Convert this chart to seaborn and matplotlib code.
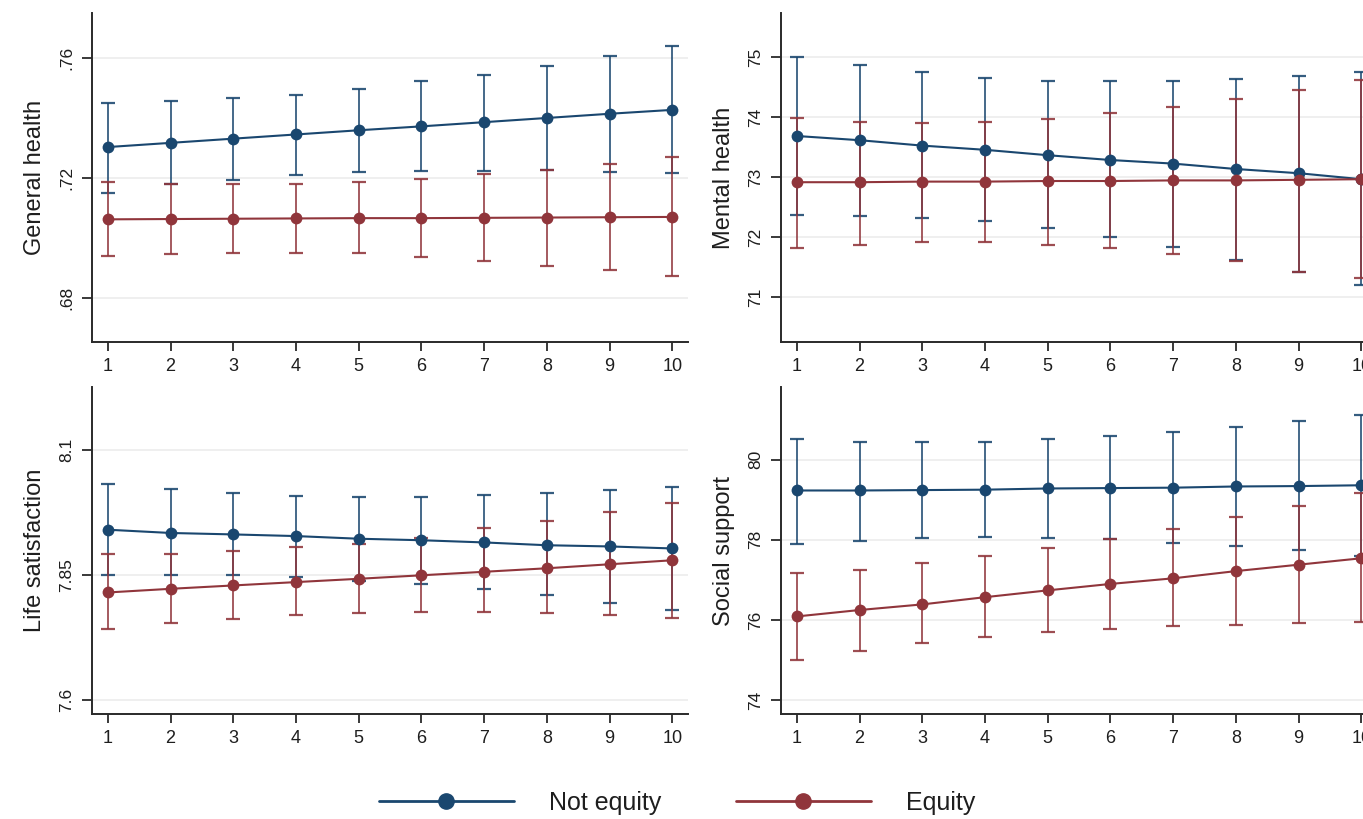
import numpy as np
import pandas as pd
import matplotlib
matplotlib.use("Agg")
import matplotlib.pyplot as plt
from matplotlib.lines import Line2D
import seaborn as sns

# ---------------- data ----------------
time = [1, 2, 3, 4, 5, 6, 7, 8, 9, 10]
groups = ["Not equity", "Equity"]

# General health
gh_ne = [0.7302, 0.7316, 0.7330, 0.7344, 0.7358, 0.7371, 0.7385, 0.7399, 0.7413, 0.7426]
gh_ne_lo = [0.7150, 0.7178, 0.7192, 0.7209, 0.7218, 0.7223, 0.7223, 0.7226, 0.7218, 0.7214]
gh_ne_hi = [0.7450, 0.7457, 0.7464, 0.7477, 0.7496, 0.7521, 0.7542, 0.7573, 0.7607, 0.7640]
gh_eq = [0.7061, 0.7062, 0.7063, 0.7064, 0.7065, 0.7065, 0.7066, 0.7067, 0.7068, 0.7069]
gh_eq_lo = [0.6938, 0.6946, 0.6950, 0.6950, 0.6948, 0.6934, 0.6922, 0.6907, 0.6892, 0.6871]
gh_eq_hi = [0.7184, 0.7178, 0.7178, 0.7178, 0.7184, 0.7194, 0.7212, 0.7227, 0.7246, 0.7268]

# Mental health
mh_ne = [73.69, 73.62, 73.53, 73.46, 73.37, 73.29, 73.23, 73.14, 73.07, 72.97]
mh_ne_lo = [72.37, 72.36, 72.33, 72.27, 72.16, 72.01, 71.84, 71.62, 71.43, 71.20]
mh_ne_hi = [75.01, 74.87, 74.75, 74.65, 74.61, 74.60, 74.60, 74.64, 74.69, 74.76]
mh_eq = [72.92, 72.92, 72.93, 72.93, 72.94, 72.94, 72.95, 72.95, 72.96, 72.97]
mh_eq_lo = [71.82, 71.88, 71.93, 71.93, 71.88, 71.82, 71.72, 71.61, 71.42, 71.33]
mh_eq_hi = [73.99, 73.92, 73.91, 73.93, 73.98, 74.07, 74.18, 74.31, 74.46, 74.63]

# Life satisfaction
ls_ne = [7.940, 7.9335, 7.9306, 7.9273, 7.922, 7.919, 7.9146, 7.909, 7.9066, 7.9026]
ls_ne_lo = [7.850, 7.850, 7.850, 7.846, 7.838, 7.832, 7.821, 7.809, 7.794, 7.779]
ls_ne_hi = [8.031, 8.021, 8.013, 8.008, 8.006, 8.006, 8.009, 8.013, 8.020, 8.026]
ls_eq = [7.8147, 7.822, 7.8287, 7.8354, 7.842, 7.849, 7.856, 7.863, 7.871, 7.879]
ls_eq_lo = [7.7415, 7.753, 7.762, 7.769, 7.773, 7.775, 7.775, 7.773, 7.769, 7.764]
ls_eq_hi = [7.8906, 7.892, 7.898, 7.906, 7.911, 7.923, 7.943, 7.957, 7.975, 7.993]

# Social support
ss_ne = [79.23, 79.23, 79.24, 79.25, 79.28, 79.29, 79.30, 79.33, 79.34, 79.36]
ss_ne_lo = [77.90, 77.98, 78.05, 78.07, 78.05, 78.02, 77.93, 77.85, 77.75, 77.60]
ss_ne_hi = [80.51, 80.45, 80.45, 80.45, 80.51, 80.60, 80.69, 80.82, 80.95, 81.12]
ss_eq = [76.09, 76.25, 76.39, 76.57, 76.74, 76.90, 77.04, 77.22, 77.38, 77.54]
ss_eq_lo = [75.01, 75.24, 75.42, 75.58, 75.69, 75.78, 75.84, 75.88, 75.93, 75.96]
ss_eq_hi = [77.17, 77.26, 77.43, 77.59, 77.79, 78.02, 78.28, 78.56, 78.85, 79.16]

# axis labels / ticks
gh_ticks = [0.68, 0.72, 0.76]
gh_ticklabels = [".68", ".72", ".76"]
mh_ticks = [71, 72, 73, 74, 75]
mh_ticklabels = ["71", "72", "73", "74", "75"]
ls_ticks = [7.6, 7.85, 8.1]
ls_ticklabels = ["7.6", "7.85", "8.1"]
ss_ticks = [74, 76, 78, 80]
ss_ticklabels = ["74", "76", "78", "80"]

# ---------------- style ----------------
sns.set_theme(style="white")
plt.rcParams["font.family"] = ["Liberation Sans", "DejaVu Sans"]

BLUE = "#1a476f"
RED = "#90353b"
palette = {"Not equity": BLUE, "Equity": RED}
TXT = "#1e1e1e"

W, H = 1363, 819
fig = plt.figure(figsize=(W / 100, H / 100), dpi=100)
fig.patch.set_facecolor("white")


def px_axes(left, top, right, bottom):
    return fig.add_axes([left / W, 1 - bottom / H, (right - left) / W, (bottom - top) / H])


panels = [
    dict(box=(91.5, 13, 688, 342), ylim=(0.6652, 0.7749), ylabel="General health",
         ne=(gh_ne, gh_ne_lo, gh_ne_hi), eq=(gh_eq, gh_eq_lo, gh_eq_hi),
         ticks=gh_ticks, labels=gh_ticklabels),
    dict(box=(780.6, 13, 1377, 342), ylim=(70.257, 75.74), ylabel="Mental health",
         ne=(mh_ne, mh_ne_lo, mh_ne_hi), eq=(mh_eq, mh_eq_lo, mh_eq_hi),
         ticks=mh_ticks, labels=mh_ticklabels),
    dict(box=(91.5, 387, 688, 714.3), ylim=(7.5714, 8.225), ylabel="Life satisfaction",
         ne=(ls_ne, ls_ne_lo, ls_ne_hi), eq=(ls_eq, ls_eq_lo, ls_eq_hi),
         ticks=ls_ticks, labels=ls_ticklabels),
    dict(box=(780.6, 387, 1377, 714.3), ylim=(73.65, 81.81), ylabel="Social support",
         ne=(ss_ne, ss_ne_lo, ss_ne_hi), eq=(ss_eq, ss_eq_lo, ss_eq_hi),
         ticks=ss_ticks, labels=ss_ticklabels),
]

for p in panels:
    ax = px_axes(*p["box"])
    ax.set_facecolor("white")
    # confidence intervals
    for key, col in (("ne", BLUE), ("eq", RED)):
        m, lo, hi = (np.asarray(v) for v in p[key])
        ax.errorbar(time, m, yerr=[m - lo, hi - m], fmt="none", ecolor=col,
                    elinewidth=1.3, capsize=5.2, capthick=1.6, zorder=2, alpha=0.88)
    # mean lines
    df = pd.concat([
        pd.DataFrame({"time": time, "value": p["ne"][0], "group": "Not equity"}),
        pd.DataFrame({"time": time, "value": p["eq"][0], "group": "Equity"}),
    ])
    sns.lineplot(data=df, x="time", y="value", hue="group", palette=palette,
                 hue_order=groups, marker="o", markersize=8.5, markeredgewidth=0,
                 linewidth=1.5, errorbar=None, legend=False, ax=ax, zorder=3)

    ax.set_xlim(0.74, 10.25)
    ax.set_ylim(*p["ylim"])
    ax.set_xticks(time)
    ax.set_xticklabels([str(t) for t in time])
    ax.set_yticks(p["ticks"])
    ax.set_yticklabels(p["labels"], rotation=90, va="center")
    ax.grid(axis="y", color="#ececec", linewidth=1.2)
    ax.grid(axis="x", visible=False)
    for s in ("top", "right"):
        ax.spines[s].set_visible(False)
    for s in ("left", "bottom"):
        ax.spines[s].set_color("#2a2a2a")
        ax.spines[s].set_linewidth(1.4)
    ax.tick_params(axis="x", direction="out", length=6.5, width=1.3, color="#2a2a2a",
                   labelsize=13, pad=5, labelcolor=TXT, bottom=True)
    ax.tick_params(axis="y", direction="out", length=7, width=1.3, color="#2a2a2a",
                   labelsize=12.5, pad=5.3, labelcolor=TXT, left=True)
    ax.set_xlabel("")
    ax.set_ylabel(p["ylabel"], fontsize=17, color=TXT, labelpad=9.5)

handles = [Line2D([], [], color=BLUE, marker="o", markersize=11, linewidth=2),
           Line2D([], [], color=RED, marker="o", markersize=11, linewidth=2)]
fig.legend(handles, groups, loc="center", bbox_to_anchor=(0.4966, 0.0195), ncol=2,
           frameon=False, fontsize=18, handlelength=5.4, handletextpad=1.4,
           columnspacing=3.0, labelcolor=TXT)

fig.savefig("out.png", dpi=100, facecolor="white")
